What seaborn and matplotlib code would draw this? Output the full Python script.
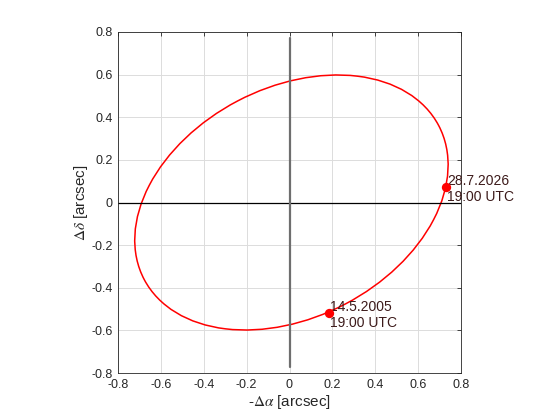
import numpy as np
import pandas as pd
import seaborn as sns
import matplotlib.pyplot as plt
from matplotlib.patches import Ellipse

# orbit ellipse (centre, full axes, tilt in degrees)
orbit_center = (0.009, 0.0)
orbit_width = 1.552
orbit_height = 1.077
orbit_angle = 27.8

# marked epochs
epoch_x = [0.185, 0.731]
epoch_y = [-0.519, 0.073]
epoch_labels = ['14.5.2005\n19:00 UTC', '28.7.2026\n19:00 UTC']

# reference lines
hline_x = [-0.8, 0.8]
hline_y = [0.0, 0.0]
vline_x = [0.0, 0.0]
vline_y = [-0.772, 0.772]

ticks = [-0.8, -0.6, -0.4, -0.2, 0, 0.2, 0.4, 0.6, 0.8]
tick_labels = ['-0.8', '-0.6', '-0.4', '-0.2', '0', '0.2', '0.4', '0.6', '0.8']

sns.set_style('white')
plt.rcParams['font.family'] = ['Liberation Sans', 'DejaVu Sans']
plt.rcParams['mathtext.fontset'] = 'stix'

fig = plt.figure(figsize=(5.6, 4.2), dpi=100)
ax = fig.add_axes([118 / 560, 47 / 420, 343 / 560, 341 / 420])

ax.grid(True, color='#dcdcdc', lw=0.7)
ax.set_axisbelow(True)

ax.plot(hline_x, hline_y, color='black', lw=0.9)
ax.plot(vline_x, vline_y, color='#6e6e6e', lw=1.6)

ax.add_patch(Ellipse(orbit_center, orbit_width, orbit_height, angle=orbit_angle,
                     fill=False, edgecolor='red', lw=1.1))

df = pd.DataFrame({'x': epoch_x, 'y': epoch_y})
sns.scatterplot(data=df, x='x', y='y', color='red', s=45, edgecolor='red',
                linewidth=0, ax=ax, zorder=5)
for xi, yi, lab in zip(epoch_x, epoch_y, epoch_labels):
    ax.text(xi + 0.003, yi - 0.01, lab, fontsize=10, color='#3c1a1a',
            ha='left', va='center', linespacing=1.15)

ax.set_xlim(-0.8, 0.8)
ax.set_ylim(-0.8, 0.8)
ax.set_xticks(ticks)
ax.set_xticklabels(tick_labels)
ax.set_yticks(ticks)
ax.set_yticklabels(tick_labels)
ax.tick_params(direction='in', length=3, width=0.6, top=True, right=True,
               labelsize=9, labelcolor='#262626', color='#262626', pad=4)
for sp in ax.spines.values():
    sp.set_color('#262626')
    sp.set_linewidth(0.6)

ax.set_xlabel(r'-$\Delta\alpha$ [arcsec]', fontsize=11, color='#262626', labelpad=2)
ax.set_ylabel(r'$\Delta\delta$ [arcsec]', fontsize=11, color='#262626', labelpad=1)

fig.savefig('out.png', dpi=100)
